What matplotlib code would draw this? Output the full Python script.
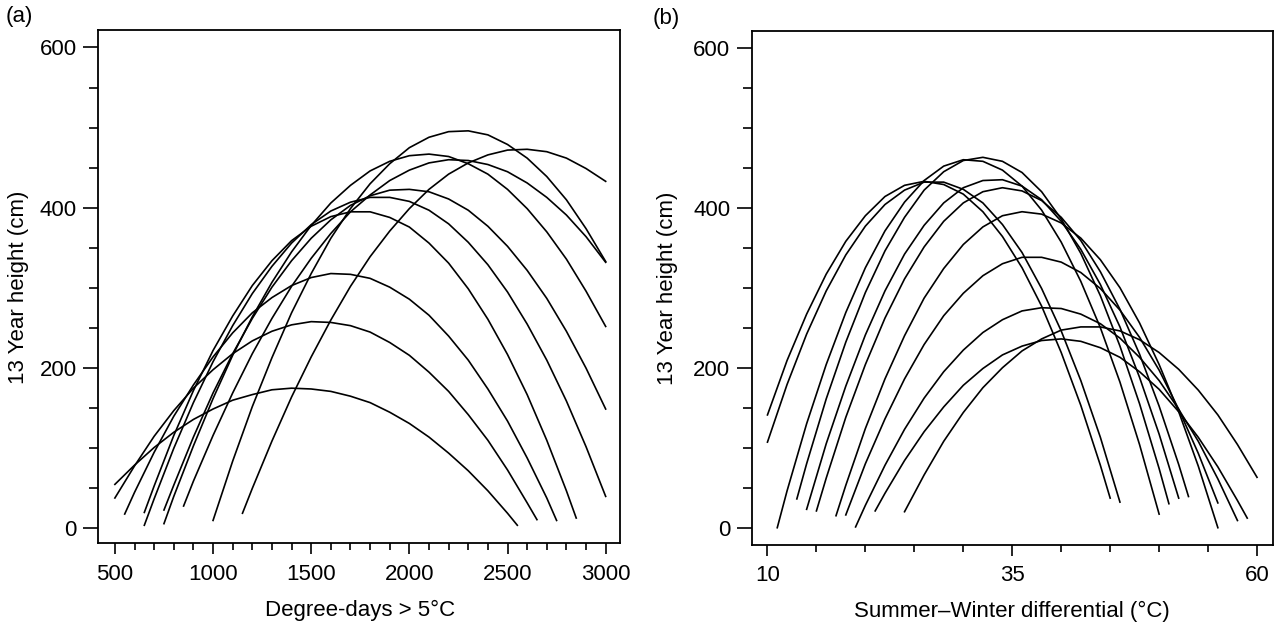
import matplotlib
matplotlib.use("Agg")
import matplotlib.pyplot as plt
from matplotlib.ticker import MultipleLocator

plt.rcParams['font.family'] = ['Liberation Sans', 'DejaVu Sans']

# (a) degree-days > 5 C  vs  13 year height (cm), one pair of lists per curve
dd_A = [1000, 1100, 1200, 1300, 1400, 1500, 1600, 1700, 1800, 1900, 2000,
        2100, 2200, 2300, 2400, 2500, 2600, 2700, 2800, 2900, 3000]
ht_A = [10, 84, 152, 213, 269, 318, 362, 399, 430, 455, 475, 488, 495, 496, 491, 479, 462, 439, 410, 374, 333]
dd_B = [1150, 1200, 1300, 1400, 1500, 1600, 1700, 1800, 1900, 2000,
        2100, 2200, 2300, 2400, 2500, 2600, 2700, 2800, 2900, 3000]
ht_B = [19, 50, 109, 164, 214, 260, 302, 339, 371, 399, 423, 442, 456, 466, 472, 473, 470, 462, 449, 433]
dd_C = [750, 800, 900, 1000, 1100, 1200, 1300, 1400, 1500, 1600, 1700, 1800,
        1900, 2000, 2100, 2200, 2300, 2400, 2500, 2600, 2700, 2800, 2900, 3000]
ht_C = [6, 40, 103, 162, 216, 264, 307, 345, 378, 406, 428, 446, 458, 465, 467, 464, 455, 442, 423, 399, 370, 336, 296, 252]
dd_D = [850, 900, 1000, 1100, 1200, 1300, 1400, 1500, 1600, 1700, 1800, 1900,
        2000, 2100, 2200, 2300, 2400, 2500, 2600, 2700, 2800, 2900, 3000]
ht_D = [28, 59, 116, 169, 218, 262, 302, 337, 368, 395, 416, 434, 447, 456, 460, 459, 454, 445, 431, 413, 391, 364, 332]
dd_E = [750, 800, 900, 1000, 1100, 1200, 1300, 1400, 1500, 1600, 1700, 1800,
        1900, 2000, 2100, 2200, 2300, 2400, 2500, 2600, 2700, 2800, 2900, 3000]
ht_E = [23, 54, 114, 169, 218, 262, 301, 334, 362, 385, 403, 415, 422, 423, 420, 411, 397, 377, 352, 322, 287, 246, 200, 149]
dd_F = [650, 700, 800, 900, 1000, 1100, 1200, 1300, 1400, 1500, 1600, 1700, 1800,
        1900, 2000, 2100, 2200, 2300, 2400, 2500, 2600, 2700, 2800, 2900, 3000]
ht_F = [4, 37, 100, 157, 208, 253, 293, 327, 356, 379, 396, 407, 413, 413, 408, 397, 380, 357, 329, 295, 255, 210, 159, 102, 40]
dd_G = [650, 700, 800, 900, 1000, 1100, 1200, 1300, 1400, 1500, 1600, 1700, 1800,
        1900, 2000, 2100, 2200, 2300, 2400, 2500, 2600, 2700, 2800, 2850]
ht_G = [20, 53, 116, 172, 222, 265, 303, 334, 359, 377, 389, 395, 395, 388, 376, 356, 331, 299, 261, 217, 167, 110, 47, 13]
dd_H = [550, 600, 700, 800, 900, 1000, 1100, 1200, 1300, 1400, 1500, 1600, 1700,
        1800, 1900, 2000, 2100, 2200, 2300, 2400, 2500, 2600, 2700, 2750]
ht_H = [18, 45, 95, 140, 179, 214, 244, 269, 288, 303, 313, 318, 317, 312, 301, 286, 266, 240, 210, 174, 134, 88, 38, 10]
dd_I = [500, 600, 700, 800, 900, 1000, 1100, 1200, 1300, 1400, 1500, 1600,
        1700, 1800, 1900, 2000, 2100, 2200, 2300, 2400, 2500, 2600, 2650]
ht_I = [38, 78, 115, 147, 175, 198, 218, 234, 246, 254, 258, 257, 253, 245, 232, 216, 195, 171, 142, 110, 73, 32, 11]
dd_J = [500, 600, 700, 800, 900, 1000, 1100, 1200, 1300, 1400, 1500, 1600,
        1700, 1800, 1900, 2000, 2100, 2200, 2300, 2400, 2500, 2550]
ht_J = [55, 79, 101, 120, 136, 149, 160, 167, 173, 175, 174, 171, 165, 157, 145, 131, 114, 94, 72, 47, 19, 4]

# (b) summer-winter differential (C)  vs  13 year height (cm)
sw_1 = [13, 14, 16, 18, 20, 22, 24, 26, 28, 30, 32, 34, 36, 38, 40, 42, 44, 46, 48, 50, 51]
ht_1 = [36, 80, 161, 232, 294, 346, 388, 422, 445, 459, 463, 458, 444, 420, 386, 343, 290, 227, 155, 74, 30]
sw_2 = [11, 12, 14, 16, 18, 20, 22, 24, 26, 28, 30, 32, 34, 36, 38, 40, 42, 44, 46, 48, 50]
ht_2 = [0, 46, 130, 204, 269, 325, 371, 407, 434, 452, 460, 458, 447, 427, 397, 357, 308, 250, 182, 104, 17]
sw_3 = [14, 16, 18, 20, 22, 24, 26, 28, 30, 32, 34, 36, 38, 40, 42, 44, 46, 48, 50, 52]
ht_3 = [23, 105, 177, 241, 296, 342, 378, 406, 425, 434, 435, 427, 410, 383, 348, 304, 251, 188, 117, 37]
sw_4 = [15, 16, 18, 20, 22, 24, 26, 28, 30, 32, 34, 36, 38, 40, 42, 44, 46, 48, 50, 52, 53]
ht_4 = [21, 62, 138, 204, 262, 311, 351, 383, 406, 420, 425, 421, 409, 388, 359, 320, 273, 217, 152, 79, 39]
sw_5 = [17, 18, 20, 22, 24, 26, 28, 30, 32, 34, 36, 38, 40, 42, 44, 46, 48, 50, 52, 54, 56]
ht_5 = [15, 53, 124, 186, 240, 287, 324, 354, 376, 390, 395, 392, 381, 362, 335, 300, 256, 204, 145, 77, 0]
sw_6 = [18, 20, 22, 24, 26, 28, 30, 32, 34, 36, 38, 40, 42, 44, 46, 48, 50, 52, 54, 56]
ht_6 = [16, 80, 136, 186, 229, 265, 293, 315, 330, 338, 338, 332, 319, 299, 272, 238, 197, 148, 93, 31]
sw_7 = [19, 20, 22, 24, 26, 28, 30, 32, 34, 36, 38, 40, 42, 44, 46, 48, 50, 52, 54, 56, 58]
ht_7 = [1, 28, 78, 123, 162, 195, 222, 244, 260, 271, 275, 274, 267, 255, 237, 213, 184, 148, 108, 61, 9]
sw_8 = [10, 12, 14, 16, 18, 20, 22, 24, 26, 28, 30, 32, 34, 36, 38, 40, 42, 44, 46]
ht_8 = [107, 179, 242, 296, 341, 377, 404, 422, 432, 432, 423, 406, 379, 344, 299, 246, 184, 113, 32]
sw_9 = [10, 12, 14, 16, 18, 20, 22, 24, 26, 28, 30, 32, 34, 36, 38, 40, 42, 44, 45]
ht_9 = [141, 209, 267, 317, 358, 390, 414, 428, 433, 429, 417, 395, 364, 325, 277, 219, 153, 78, 37]
sw_10 = [24, 26, 28, 30, 32, 34, 36, 38, 40, 42, 44, 46, 48, 50, 52, 54, 56, 58, 60]
ht_10 = [20, 66, 108, 144, 175, 200, 221, 236, 247, 251, 251, 246, 235, 219, 198, 172, 141, 104, 63]
sw_11 = [21, 22, 24, 26, 28, 30, 32, 34, 36, 38, 40, 42, 44, 46, 48, 50, 52, 54, 56, 58, 59]
ht_11 = [21, 43, 84, 120, 151, 178, 199, 216, 227, 234, 236, 233, 225, 213, 195, 173, 145, 113, 76, 34, 12]

curves_a = [(dd_A, ht_A), (dd_B, ht_B), (dd_C, ht_C), (dd_D, ht_D), (dd_E, ht_E),
            (dd_F, ht_F), (dd_G, ht_G), (dd_H, ht_H), (dd_I, ht_I), (dd_J, ht_J)]
curves_b = [(sw_1, ht_1), (sw_2, ht_2), (sw_3, ht_3), (sw_4, ht_4), (sw_5, ht_5), (sw_6, ht_6),
            (sw_7, ht_7), (sw_8, ht_8), (sw_9, ht_9), (sw_10, ht_10), (sw_11, ht_11)]

W, H = 1277, 627
fig = plt.figure(figsize=(12.77, 6.27), dpi=100)
axa = fig.add_axes([98 / W, 1 - 543.3 / H, 522 / W, 513.3 / H])
axb = fig.add_axes([751.7 / W, 1 - 545 / H, 521.1 / W, 514 / H])

for xs, ys in curves_a:
    axa.plot(xs, ys, color='black', lw=1.2)
for xs, ys in curves_b:
    axb.plot(xs, ys, color='black', lw=1.2)

axa.set_xlim(414, 3073)
axa.set_ylim(-18.5, 621.8)
axb.set_xlim(8.39, 61.61)
axb.set_ylim(-21.6, 620.9)

axa.set_xticks([500, 1000, 1500, 2000, 2500, 3000])
axa.xaxis.set_minor_locator(MultipleLocator(100))
axb.set_xticks([10, 35, 60])
axb.xaxis.set_minor_locator(MultipleLocator(5))

for ax in (axa, axb):
    ax.set_yticks([0, 200, 400, 600])
    ax.yaxis.set_minor_locator(MultipleLocator(50))
    for s in ax.spines.values():
        s.set_linewidth(1.3)
    ax.tick_params(which='both', direction='out', width=1.2, top=False, right=False, labelsize=16)
    ax.tick_params(axis='y', which='major', length=10.8, pad=4.5)
    ax.tick_params(axis='y', which='minor', length=6.5)
    ax.tick_params(axis='x', which='major', length=7.6, pad=7)
    ax.tick_params(axis='x', which='minor', length=5)

fig.text(360 / W, 1 - 610 / H, 'Degree-days > 5°C', ha='center', va='center', fontsize=16)
fig.text(18.6 / W, 1 - 287 / H, '13 Year height (cm)', ha='center', va='center', rotation=90, fontsize=16)
fig.text(1012 / W, 1 - 611 / H, 'Summer\u2013Winter differential (°C)', ha='center', va='center', fontsize=16)
fig.text(668 / W, 1 - 288 / H, '13 Year height (cm)', ha='center', va='center', rotation=90, fontsize=16)
fig.text(19.6 / W, 1 - 16.5 / H, '(a)', ha='center', va='center', fontsize=16)
fig.text(666 / W, 1 - 18.5 / H, '(b)', ha='center', va='center', fontsize=16)

fig.savefig('out.png', dpi=100)
